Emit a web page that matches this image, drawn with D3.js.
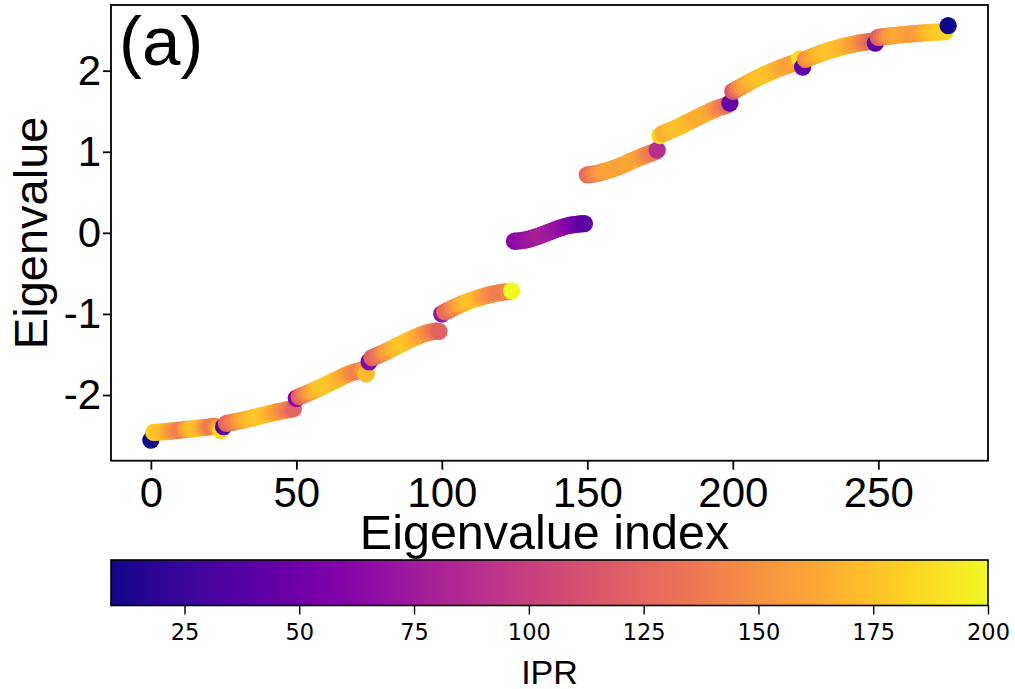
<!DOCTYPE html>
<html>
<head>
<meta charset="utf-8">
<script src="https://cdn.jsdelivr.net/npm/d3@7"></script>
<style>
  html, body { margin: 0; padding: 0; background: #ffffff; }
  svg { display: block; }
  .tick text { fill: #000; }
</style>
</head>
<body>
<svg id="chart" width="1015" height="689"></svg>
<script>
// Eigenvalues, in index order (275 states, blocks of 25)
const eigenvalues = [
  // 0-24
  -2.556, -2.460, -2.458, -2.456, -2.453, -2.450, -2.447, -2.444, -2.441, -2.437,
  -2.433, -2.429, -2.425, -2.421, -2.417, -2.413, -2.409, -2.405, -2.401, -2.397,
  -2.393, -2.389, -2.385, -2.400, -2.440,
  // 25-49
  -2.390, -2.350, -2.344, -2.337, -2.330, -2.322, -2.314, -2.306, -2.298, -2.290,
  -2.281, -2.272, -2.263, -2.254, -2.245, -2.236, -2.227, -2.218, -2.210, -2.202,
  -2.195, -2.188, -2.182, -2.177, -2.168,
  // 50-74
  -2.040, -2.020, -2.005, -1.990, -1.975, -1.960, -1.945, -1.929, -1.912, -1.895,
  -1.878, -1.860, -1.842, -1.824, -1.806, -1.788, -1.771, -1.755, -1.740, -1.727,
  -1.715, -1.705, -1.697, -1.692, -1.740,
  // 75-99
  -1.590, -1.540, -1.525, -1.510, -1.495, -1.478, -1.460, -1.443, -1.425, -1.407,
  -1.389, -1.371, -1.353, -1.335, -1.318, -1.301, -1.285, -1.270, -1.256, -1.243,
  -1.232, -1.223, -1.216, -1.211, -1.215,
  // 100-124
  -1.000, -0.975, -0.958, -0.941, -0.924, -0.907, -0.891, -0.875, -0.860, -0.846,
  -0.833, -0.820, -0.808, -0.797, -0.786, -0.776, -0.767, -0.758, -0.750, -0.743,
  -0.737, -0.732, -0.728, -0.725, -0.715,
  // 125-149
  -0.103, -0.100, -0.097, -0.092, -0.085, -0.076, -0.066, -0.055, -0.043, -0.030,
  -0.016, -0.002, 0.012, 0.026, 0.040, 0.053, 0.065, 0.076, 0.086, 0.094,
  0.100, 0.105, 0.109, 0.112, 0.114,
  // 150-174
  0.715, 0.719, 0.725, 0.732, 0.740, 0.750, 0.760, 0.770, 0.781, 0.793,
  0.806, 0.820, 0.835, 0.851, 0.867, 0.883, 0.899, 0.915, 0.930, 0.945,
  0.959, 0.972, 0.984, 0.995, 1.020,
  // 175-199
  1.200, 1.225, 1.240, 1.255, 1.270, 1.285, 1.301, 1.318, 1.336, 1.354,
  1.372, 1.390, 1.408, 1.426, 1.444, 1.462, 1.479, 1.496, 1.512, 1.527,
  1.541, 1.554, 1.565, 1.574, 1.600,
  // 200-224
  1.745, 1.765, 1.785, 1.805, 1.825, 1.845, 1.865, 1.884, 1.902, 1.920,
  1.937, 1.954, 1.970, 1.986, 2.001, 2.016, 2.030, 2.044, 2.057, 2.070,
  2.082, 2.094, 2.105, 2.145, 2.044,
  // 225-249
  2.140, 2.155, 2.170, 2.184, 2.198, 2.211, 2.224, 2.236, 2.248, 2.259,
  2.270, 2.280, 2.290, 2.299, 2.308, 2.316, 2.324, 2.331, 2.338, 2.344,
  2.350, 2.355, 2.360, 2.364, 2.340,
  // 250-274
  2.410, 2.415, 2.420, 2.424, 2.428, 2.432, 2.436, 2.440, 2.443, 2.446,
  2.449, 2.452, 2.455, 2.458, 2.461, 2.464, 2.467, 2.470, 2.472, 2.474,
  2.476, 2.478, 2.480, 2.482, 2.556
];

// Inverse participation ratio of each state, same order
const ipr = [
  // 0-24
  9, 182, 178, 175, 172, 168, 164, 158, 152, 145,
  140, 143, 154, 163, 170, 173, 172, 168, 161, 152,
  143, 138, 141, 155, 185,
  // 25-49
  38, 124, 130, 137, 144, 151, 158, 163, 168, 171,
  174, 176, 177, 177, 175, 172, 169, 165, 161, 156,
  150, 145, 140, 135, 124,
  // 50-74
  58, 122, 130, 140, 150, 158, 165, 170, 174, 176,
  177, 177, 176, 174, 172, 169, 165, 161, 156, 150,
  145, 141, 144, 154, 172,
  // 75-99
  60, 122, 127, 133, 140, 148, 155, 161, 166, 170,
  174, 176, 177, 176, 174, 171, 168, 164, 159, 154,
  149, 144, 139, 134, 122,
  // 100-124
  68, 124, 130, 137, 145, 152, 159, 164, 169, 173,
  175, 174, 171, 166, 161, 157, 152, 148, 145, 142,
  140, 140, 142, 146, 200,
  // 125-149
  62, 64, 66, 68, 70, 72, 74, 76, 77, 78,
  78, 77, 76, 74, 72, 70, 68, 66, 63, 60,
  57, 53, 50, 46, 42,
  // 150-174
  128, 133, 139, 145, 150, 154, 157, 159, 160, 160,
  159, 158, 158, 159, 161, 163, 163, 161, 158, 153,
  148, 143, 139, 136, 88,
  // 175-199
  185, 168, 166, 168, 171, 173, 175, 175, 174, 173,
  171, 168, 166, 165, 165, 166, 166, 163, 158, 153,
  148, 143, 138, 131, 45,
  // 200-224
  115, 128, 141, 151, 158, 163, 167, 170, 173, 175,
  176, 176, 175, 173, 171, 169, 166, 163, 161, 159,
  158, 159, 163, 188, 42,
  // 225-249
  143, 151, 158, 163, 167, 170, 173, 175, 176, 176,
  175, 173, 171, 169, 167, 164, 161, 157, 153, 148,
  143, 137, 131, 126, 40,
  // 250-274
  120, 128, 138, 146, 153, 158, 161, 163, 163, 161,
  158, 156, 155, 156, 158, 161, 165, 169, 172, 175,
  177, 179, 180, 182, 9
];

const xTicks = [0, 50, 100, 150, 200, 250];
const yTicks = [-2, -1, 0, 1, 2];
const cbTicks = [25, 50, 75, 100, 125, 150, 175, 200];
const iprRange = [9, 200];

const points = eigenvalues.map((v, i) => ({ index: i, value: v, ipr: ipr[i] }));

const svg = d3.select("#chart");
const W = 1015, H = 689;
svg.append("rect").attr("width", W).attr("height", H).attr("fill", "#fff");

// Plot area
const plot = { left: 111, right: 988, top: 5, bottom: 460.7 };

const x = d3.scaleLinear()
  .domain([-13.7, 287.7])
  .range([plot.left, plot.right]);
const y = d3.scaleLinear()
  .domain([-2.81, 2.81])
  .range([plot.bottom, plot.top]);
const color = d3.scaleSequential(d3.interpolatePlasma).domain(iprRange);

const mainFont = "'Liberation Sans', Arial, sans-serif";

// Scatter points, drawn in index order
svg.append("g")
  .selectAll("circle")
  .data(points)
  .join("circle")
  .attr("cx", d => x(d.index))
  .attr("cy", d => y(d.value))
  .attr("r", 8.7)
  .attr("fill", d => color(d.ipr));

// Frame
svg.append("rect")
  .attr("x", plot.left).attr("y", plot.top)
  .attr("width", plot.right - plot.left)
  .attr("height", plot.bottom - plot.top)
  .attr("fill", "none")
  .attr("stroke", "#000")
  .attr("stroke-width", 1.8);

// Axes
const xAxis = svg.append("g")
  .attr("transform", `translate(0,${plot.bottom})`)
  .call(d3.axisBottom(x).tickValues(xTicks).tickSize(9).tickPadding(7)
    .tickFormat(d => String(d)));
const yAxis = svg.append("g")
  .attr("transform", `translate(${plot.left},0)`)
  .call(d3.axisLeft(y).tickValues(yTicks).tickSize(8).tickPadding(2)
    .tickFormat(d => String(d)));

[xAxis, yAxis].forEach(g => {
  g.select(".domain").remove();
  g.selectAll(".tick line").attr("stroke", "#000").attr("stroke-width", 1.8);
  g.selectAll(".tick text")
    .style("font-family", mainFont)
    .style("font-size", "42px");
});

// Axis titles
svg.append("text")
  .attr("x", (plot.left + plot.right) / 2 - 5)
  .attr("y", 549)
  .attr("text-anchor", "middle")
  .style("font-family", mainFont)
  .style("font-size", "48.5px")
  .text("Eigenvalue index");

svg.append("text")
  .attr("transform", `translate(47,${(plot.top + plot.bottom) / 2}) rotate(-90)`)
  .attr("text-anchor", "middle")
  .style("font-family", mainFont)
  .style("font-size", "47px")
  .text("Eigenvalue");

// Panel label
svg.append("text")
  .attr("x", 119)
  .attr("y", 65)
  .style("font-family", mainFont)
  .style("font-size", "69px")
  .text("(a)");

// Colorbar
const cb = { left: 111, right: 988, top: 560, bottom: 605.5 };
const cbScale = d3.scaleLinear().domain(iprRange).range([cb.left, cb.right]);

const grad = svg.append("defs").append("linearGradient")
  .attr("id", "plasmaGrad")
  .attr("x1", "0%").attr("x2", "100%").attr("y1", "0%").attr("y2", "0%");
d3.range(0, 1.0001, 0.02).forEach(t => {
  grad.append("stop")
    .attr("offset", `${t * 100}%`)
    .attr("stop-color", d3.interpolatePlasma(t));
});

svg.append("rect")
  .attr("x", cb.left).attr("y", cb.top)
  .attr("width", cb.right - cb.left).attr("height", cb.bottom - cb.top)
  .attr("fill", "url(#plasmaGrad)")
  .attr("stroke", "#000")
  .attr("stroke-width", 1.6);

const cbAxis = svg.append("g")
  .attr("transform", `translate(0,${cb.bottom})`)
  .call(d3.axisBottom(cbScale).tickValues(cbTicks).tickSize(9).tickPadding(10)
    .tickFormat(d => String(d)));
cbAxis.select(".domain").remove();
cbAxis.selectAll(".tick line").attr("stroke", "#000").attr("stroke-width", 1.4);
cbAxis.selectAll(".tick text")
  .style("font-family", "'DejaVu Sans', sans-serif")
  .style("font-size", "22.5px");

svg.append("text")
  .attr("x", (cb.left + cb.right) / 2)
  .attr("y", 684)
  .attr("text-anchor", "middle")
  .style("font-family", mainFont)
  .style("font-size", "34px")
  .text("IPR");
</script>
</body>
</html>
